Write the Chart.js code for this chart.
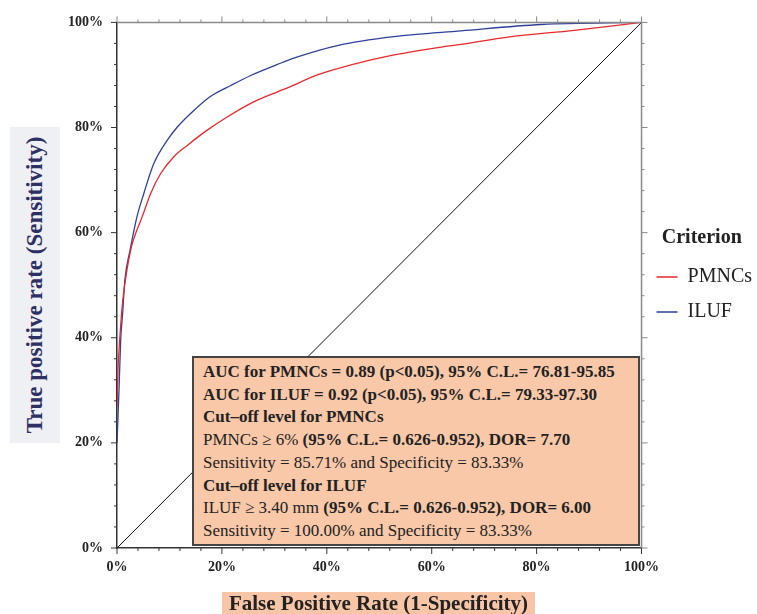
<!DOCTYPE html>
<html>
<head>
<meta charset="utf-8">
<script src="https://cdn.jsdelivr.net/npm/chart.js@4"></script>
<style>
    body { margin: 0; background: #fff; }
    #wrap { position: relative; width: 757px; height: 614px; overflow: hidden; font-family: "Liberation Serif", "Times New Roman", serif; }
    #roc { position: absolute; left: 0; top: 0; }
    .y-title {
        position: absolute; left: 10px; top: 127px; width: 50px; height: 316px;
        background: #eff0f4;
    }
    .y-title span {
        position: absolute; left: 50%; top: 50%;
        transform: translate(-50%, -50%) rotate(-90deg);
        white-space: nowrap; font-weight: bold; font-size: 23px; color: #2e2f63;
    }
    .x-title {
        position: absolute; left: 222px; top: 592px; width: 313px; height: 22px;
        background: #f8c6a6; text-align: center; font-weight: bold; font-size: 21px;
        line-height: 23px; color: #222;
    }
    .note {
        position: absolute; left: 192px; top: 356px; width: 435px; height: 183px;
        background: #f9c8a8; border: 2px solid #444; padding: 3px 0 0 9px;
        font-size: 17px; line-height: 22.7px; color: #222; white-space: nowrap;
    }
    .note b { font-weight: bold; }
</style>
</head>
<body>
<div id="wrap">
    <canvas id="roc" width="757" height="614"></canvas>
    <div class="y-title"><span>True positive rate (Sensitivity)</span></div>
    <div class="x-title">False Positive Rate (1-Specificity)</div>
    <div class="note">
        <b>AUC for PMNCs = 0.89 (p&lt;0.05), 95% C.L.= 76.81-95.85</b><br>
        <b>AUC for ILUF = 0.92 (p&lt;0.05), 95% C.L.= 79.33-97.30</b><br>
        <b>Cut–off level for PMNCs</b><br>
        PMNCs ≥ 6% <b>(95% C.L.= 0.626-0.952), DOR= 7.70</b><br>
        Sensitivity = 85.71% and Specificity = 83.33%<br>
        <b>Cut–off level for ILUF</b><br>
        ILUF ≥ 3.40 mm <b>(95% C.L.= 0.626-0.952), DOR= 6.00</b><br>
        Sensitivity = 100.00% and Specificity = 83.33%
    </div>
</div>
<script>
// ROC curves (percent)
const fprPMNC = [0, 0.2, 0.6, 1.1, 1.9, 2.8, 3.8, 4.8, 6.4, 8.3, 10.8, 13.4, 17.2, 21, 25.5, 30.6, 32.4, 38.2, 44.6, 52.8, 61.8, 65.6, 74.5, 87.2, 100];
const tprPMNC = [27, 34, 40.9, 47.1, 52.9, 57.5, 60.5, 63, 67.4, 71.2, 74.4, 76.6, 79.5, 82, 84.6, 86.8, 87.5, 90, 91.9, 93.8, 95.3, 95.8, 97.2, 98.5, 100];
const fprILUF = [0, 0.4, 0.7, 1.1, 1.5, 2.5, 3.8, 5.1, 7, 9.6, 11.5, 14.7, 17.8, 21.7, 25.5, 30.6, 33.7, 42, 52.8, 65.6, 80.9, 100];
const tprILUF = [20, 30.6, 39.5, 45, 51, 56.7, 63, 67.4, 73.1, 77.6, 80.1, 83.3, 85.9, 88, 89.9, 92, 93.2, 95.6, 97.3, 98.4, 99.6, 100];
const diagX = [0, 100];
const diagY = [0, 100];
const seriesNames = ['PMNCs', 'ILUF'];
const tickLabels = ['0%', '20%', '40%', '60%', '80%', '100%'];

const toPoints = (xs, ys) => xs.map((x, i) => ({ x: x, y: ys[i] }));
const serif = '"Liberation Serif", "Times New Roman", serif';

// tick marks on all four sides, major every 20, minor every 4
const frameTicks = {
    id: 'frameTicks',
    afterDraw(chart) {
        const { ctx, chartArea: a, scales: { x, y } } = chart;
        ctx.save();
        // top and right gray frame
        ctx.strokeStyle = '#8a8a8a';
        ctx.lineWidth = 1.5;
        ctx.beginPath();
        ctx.moveTo(a.left, a.top);
        ctx.lineTo(a.right, a.top);
        ctx.lineTo(a.right, a.bottom);
        ctx.stroke();
        for (let v = 0; v <= 100; v += 4) {
            const len = v % 20 === 0 ? 6 : 3;
            const px = x.getPixelForValue(v);
            const py = y.getPixelForValue(v);
            ctx.lineWidth = 1;
            ctx.strokeStyle = '#8a8a8a';
            ctx.beginPath();
            ctx.moveTo(px, a.top);
            ctx.lineTo(px, a.top - len);
            ctx.moveTo(a.right, py);
            ctx.lineTo(a.right + len, py);
            ctx.stroke();
            ctx.strokeStyle = '#333';
            ctx.beginPath();
            ctx.moveTo(px, a.bottom);
            ctx.lineTo(px, a.bottom + len);
            ctx.moveTo(a.left, py);
            ctx.lineTo(a.left - len, py);
            ctx.stroke();
        }
        ctx.restore();
    }
};

new Chart(document.getElementById('roc').getContext('2d'), {
    type: 'scatter',
    data: {
        datasets: [{
            label: seriesNames[0],
            data: toPoints(fprPMNC, tprPMNC),
            showLine: true,
            borderColor: '#e8282c',
            backgroundColor: '#e8282c',
            borderWidth: 1.3,
            pointRadius: 0,
            cubicInterpolationMode: 'monotone'
        }, {
            label: seriesNames[1],
            data: toPoints(fprILUF, tprILUF),
            showLine: true,
            borderColor: '#2f3f9a',
            backgroundColor: '#2f3f9a',
            borderWidth: 1.3,
            pointRadius: 0,
            cubicInterpolationMode: 'monotone'
        }, {
            label: 'reference',
            data: toPoints(diagX, diagY),
            showLine: true,
            borderColor: '#111',
            borderWidth: 1,
            pointRadius: 0
        }]
    },
    options: {
        responsive: false,
        animation: false,
        layout: { padding: { top: 22, right: -5, left: 0, bottom: 0 } },
        plugins: {
            tooltip: { enabled: false },
            legend: {
                position: 'right',
                align: 'start',
                labels: {
                    filter: item => item.datasetIndex < 2,
                    usePointStyle: true,
                    pointStyle: 'line',
                    pointStyleWidth: 21,
                    padding: 15,
                    color: '#222',
                    font: { family: serif, size: 20 }
                },
                title: {
                    display: true,
                    text: 'Criterion',
                    position: 'center',
                    color: '#222',
                    padding: { top: 206, bottom: 0 },
                    font: { family: serif, size: 20, weight: 'bold' }
                }
            }
        },
        scales: {
            x: {
                type: 'linear',
                min: 0,
                max: 100,
                afterFit: s => { s.height = 66; },
                border: { display: true, color: '#333', width: 1.5 },
                grid: { display: true, drawOnChartArea: false, drawTicks: false },
                ticks: {
                    stepSize: 20,
                    padding: 11,
                    color: '#222',
                    font: { family: serif, size: 14, weight: 'bold' },
                    callback: v => tickLabels[v / 20]
                }
            },
            y: {
                type: 'linear',
                min: 0,
                max: 100,
                afterFit: s => { s.width = 117; },
                border: { display: true, color: '#333', width: 1.5 },
                grid: { display: true, drawOnChartArea: false, drawTicks: false },
                ticks: {
                    stepSize: 20,
                    padding: 14,
                    color: '#222',
                    font: { family: serif, size: 14, weight: 'bold' },
                    callback: v => tickLabels[v / 20]
                }
            }
        }
    },
    plugins: [frameTicks]
});
</script>
</body>
</html>
